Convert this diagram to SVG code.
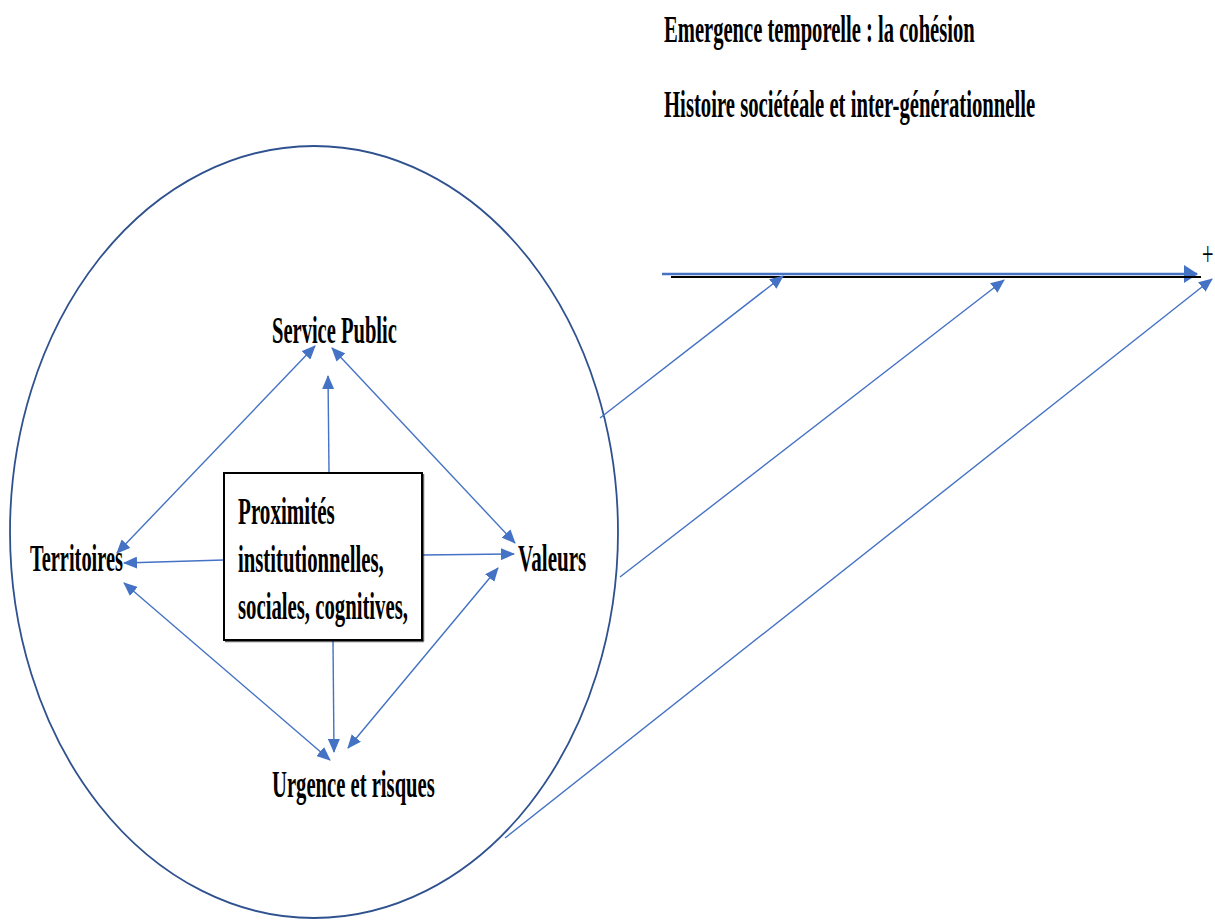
<svg xmlns="http://www.w3.org/2000/svg" width="1215" height="920" viewBox="0 0 1215 920">
<style>
.lbl{font-family:"Liberation Serif","Times New Roman",serif;font-weight:bold;font-size:38px;fill:#000}
.con{stroke:#4472C4;stroke-width:1.4;fill:none}
</style>
<defs>
<marker id="ah" markerUnits="userSpaceOnUse" markerWidth="14" markerHeight="12" viewBox="0 0 14 12" refX="13" refY="6" orient="auto-start-reverse">
<path d="M0,0 L14,6 L0,12 z" fill="#4472C4"/>
</marker>
<marker id="ahBig" markerUnits="userSpaceOnUse" markerWidth="14" markerHeight="18" viewBox="0 0 14 18" refX="13" refY="9" orient="auto">
<path d="M0,0 L14,9 L0,18 z" fill="#4472C4"/>
</marker>
</defs>
<rect width="1215" height="920" fill="#fff"/>

<g id="titles">
<text class="lbl" transform="translate(664,42) scale(0.55,1)" x="0" y="0" textLength="565" lengthAdjust="spacingAndGlyphs">Emergence temporelle : la cohésion</text>
<text class="lbl" transform="translate(664,117) scale(0.55,1)" x="0" y="0" textLength="675" lengthAdjust="spacingAndGlyphs">Histoire sociétéale et inter-générationnelle</text>
</g>

<g id="circle">
<ellipse cx="314" cy="532" rx="304" ry="386" fill="none" stroke="#2F528F" stroke-width="1.8"/>
</g>

<g id="timeline">
<line x1="662" y1="274" x2="1197" y2="274" stroke="#4472C4" stroke-width="2.5" marker-end="url(#ahBig)"/>
<line x1="671" y1="277" x2="1201" y2="277" stroke="#000" stroke-width="2"/>
<text transform="translate(1202,265) scale(0.6,1)" x="0" y="0" font-family="Liberation Serif, serif" font-size="34" fill="#000">+</text>
</g>

<g id="connectors">
<line class="con" x1="315" y1="346" x2="117" y2="553" marker-start="url(#ah)" marker-end="url(#ah)"/>
<line class="con" x1="329" y1="472" x2="328" y2="376" marker-end="url(#ah)"/>
<line class="con" x1="332" y1="348" x2="515" y2="543" marker-start="url(#ah)" marker-end="url(#ah)"/>
<line class="con" x1="224" y1="560" x2="124" y2="563" marker-end="url(#ah)"/>
<line class="con" x1="422" y1="555" x2="514" y2="554" marker-end="url(#ah)"/>
<line class="con" x1="124" y1="583" x2="330" y2="760" marker-start="url(#ah)" marker-end="url(#ah)"/>
<line class="con" x1="333" y1="641" x2="334" y2="752" marker-end="url(#ah)"/>
<line class="con" x1="498" y1="568" x2="348" y2="748" marker-start="url(#ah)" marker-end="url(#ah)"/>
<line class="con" x1="600" y1="418" x2="783" y2="276" marker-end="url(#ah)"/>
<line class="con" x1="620" y1="577" x2="1004" y2="280" marker-end="url(#ah)"/>
<line class="con" x1="505" y1="838" x2="1212" y2="279" marker-end="url(#ah)"/>
</g>

<g id="service-public">
<text class="lbl" transform="translate(272,343) scale(0.55,1)" x="0" y="0" textLength="227" lengthAdjust="spacingAndGlyphs">Service Public</text>
</g>
<g id="territoires">
<text class="lbl" transform="translate(30,571) scale(0.55,1)" x="0" y="0" textLength="169" lengthAdjust="spacingAndGlyphs">Territoires</text>
</g>
<g id="valeurs">
<text class="lbl" transform="translate(518,571) scale(0.55,1)" x="0" y="0" textLength="124" lengthAdjust="spacingAndGlyphs">Valeurs</text>
</g>
<g id="urgence">
<text class="lbl" transform="translate(272,797) scale(0.55,1)" x="0" y="0" textLength="296" lengthAdjust="spacingAndGlyphs">Urgence et risques</text>
</g>
<g id="proximites">
<rect x="224" y="473" width="198" height="167" fill="#fff" stroke="#000" stroke-width="2"/>
<line x1="225" y1="641.5" x2="423.5" y2="641.5" stroke="#000" stroke-width="1.5" opacity="0.6"/>
<line x1="423.5" y1="474" x2="423.5" y2="641.5" stroke="#000" stroke-width="1.5" opacity="0.6"/>
<text class="lbl" transform="translate(238,524) scale(0.55,1)" x="0" y="0" textLength="176" lengthAdjust="spacingAndGlyphs">Proximités</text>
<text class="lbl" transform="translate(238,572) scale(0.55,1)" x="0" y="0" textLength="265" lengthAdjust="spacingAndGlyphs">institutionnelles,</text>
<text class="lbl" transform="translate(238,619) scale(0.55,1)" x="0" y="0" textLength="309" lengthAdjust="spacingAndGlyphs">sociales, cognitives,</text>
</g>
</svg>
